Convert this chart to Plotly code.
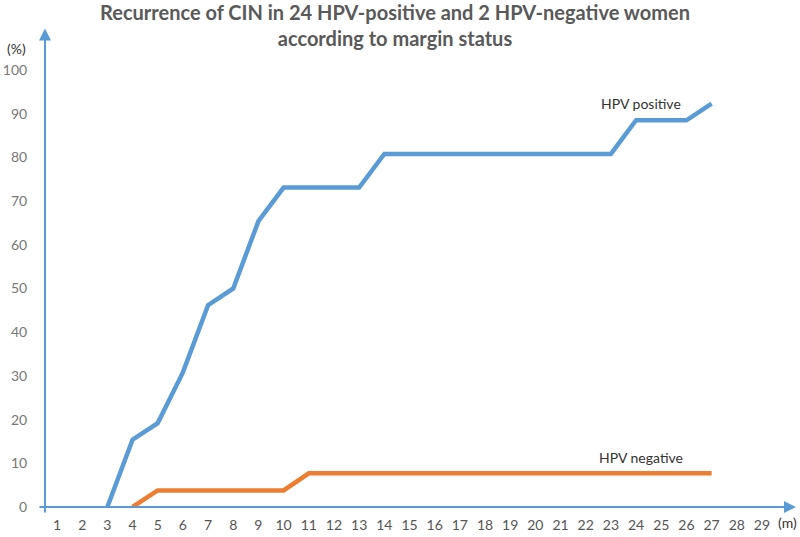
import plotly.graph_objects as go

months = list(range(1, 30))
pos_x = [3, 4, 5, 6, 7, 8, 9, 10, 11, 12, 13, 14, 15, 16, 17, 18, 19, 20, 21, 22, 23, 24, 25, 26, 27]
pos_y = [0, 15.4, 19.2, 30.8, 46.2, 50.0, 65.4, 73.1, 73.1, 73.1, 73.1, 80.8, 80.8, 80.8, 80.8, 80.8,
         80.8, 80.8, 80.8, 80.8, 80.8, 88.5, 88.5, 88.5, 92.3]
neg_x = [4, 5, 6, 7, 8, 9, 10, 11, 12, 13, 14, 15, 16, 17, 18, 19, 20, 21, 22, 23, 24, 25, 26, 27]
neg_y = [0, 3.8, 3.8, 3.8, 3.8, 3.8, 3.8, 7.7, 7.7, 7.7, 7.7, 7.7, 7.7, 7.7, 7.7, 7.7, 7.7, 7.7,
         7.7, 7.7, 7.7, 7.7, 7.7, 7.7]
y_ticks = [0, 10, 20, 30, 40, 50, 60, 70, 80, 90, 100]

BLUE = "#5B9BD5"
ORANGE = "#ED7D31"
FONT = "Lato"

L, R, T, B = 45, 0, 25, 30
PW, PH = 800 - L - R, 537 - T - B

fig = go.Figure()
fig.add_trace(go.Scatter(x=pos_x, y=pos_y, mode="lines",
                         line=dict(color=BLUE, width=4.5), cliponaxis=False))
fig.add_trace(go.Scatter(x=neg_x, y=neg_y, mode="lines",
                         line=dict(color=ORANGE, width=4.5), cliponaxis=False))

XMIN, XMAX = 0.523, 30.51
YMIN, YMAX = 0, 110.3

# axis arrows
fig.add_annotation(x=30.35, y=0, ax=0.245, ay=0, xref="x", yref="y", axref="x", ayref="y",
                   showarrow=True, arrowhead=2, arrowsize=1.2, arrowwidth=2, arrowcolor=BLUE, text="")
fig.add_annotation(x=XMIN, y=109.5, ax=XMIN, ay=-1.6, xref="x", yref="y", axref="x", ayref="y",
                   showarrow=True, arrowhead=2, arrowsize=1.2, arrowwidth=2, arrowcolor=BLUE, text="")

fig.add_annotation(x=24.2, y=92.3, text="HPV positive", showarrow=False,
                   font=dict(family=FONT, size=14, color="#333333"), xanchor="center", yanchor="middle")
fig.add_annotation(x=24.2, y=11.4, text="HPV negative", showarrow=False,
                   font=dict(family=FONT, size=14, color="#333333"), xanchor="center", yanchor="middle")
fig.add_annotation(x=(787 - L) / PW, y=(537 - B - 522) / PH, xref="paper", yref="paper", text="(m)",
                   showarrow=False, xanchor="center", yanchor="middle",
                   font=dict(family=FONT, size=14, color="#333333"))
fig.add_annotation(x=(16 - L) / PW, y=(537 - B - 48) / PH, xref="paper", yref="paper", text="(%)",
                   showarrow=False, xanchor="center", yanchor="middle",
                   font=dict(family=FONT, size=14, color="#333333"))

fig.update_layout(
    width=800, height=537,
    margin=dict(l=L, r=R, t=T, b=B),
    paper_bgcolor="white", plot_bgcolor="white",
    showlegend=False,
    title=dict(text="<b>Recurrence of CIN in 24 HPV-positive and 2 HPV-negative women<br>according to margin status</b>",
               x=395 / 800, xanchor="center", y=1 - 20 / 537, yanchor="middle",
               font=dict(family=FONT, size=20, color="#595959")),
    xaxis=dict(range=[XMIN, XMAX], tickmode="array", tickvals=months, ticktext=[str(m) for m in months],
               showgrid=False, zeroline=False, showline=False, ticks="outside", ticklen=5,
               tickcolor="rgba(0,0,0,0)", tickfont=dict(family=FONT, size=14, color="#555555")),
    yaxis=dict(range=[YMIN, YMAX], tickmode="array", tickvals=y_ticks,
               showgrid=False, zeroline=False, showline=False, ticks="outside", ticklen=14,
               tickcolor="rgba(0,0,0,0)", tickfont=dict(family=FONT, size=14, color="#777777")),
)

fig.write_html("out.html", config={"displayModeBar": False},
               post_script="document.body.style.margin='0';document.body.style.padding='0';")
